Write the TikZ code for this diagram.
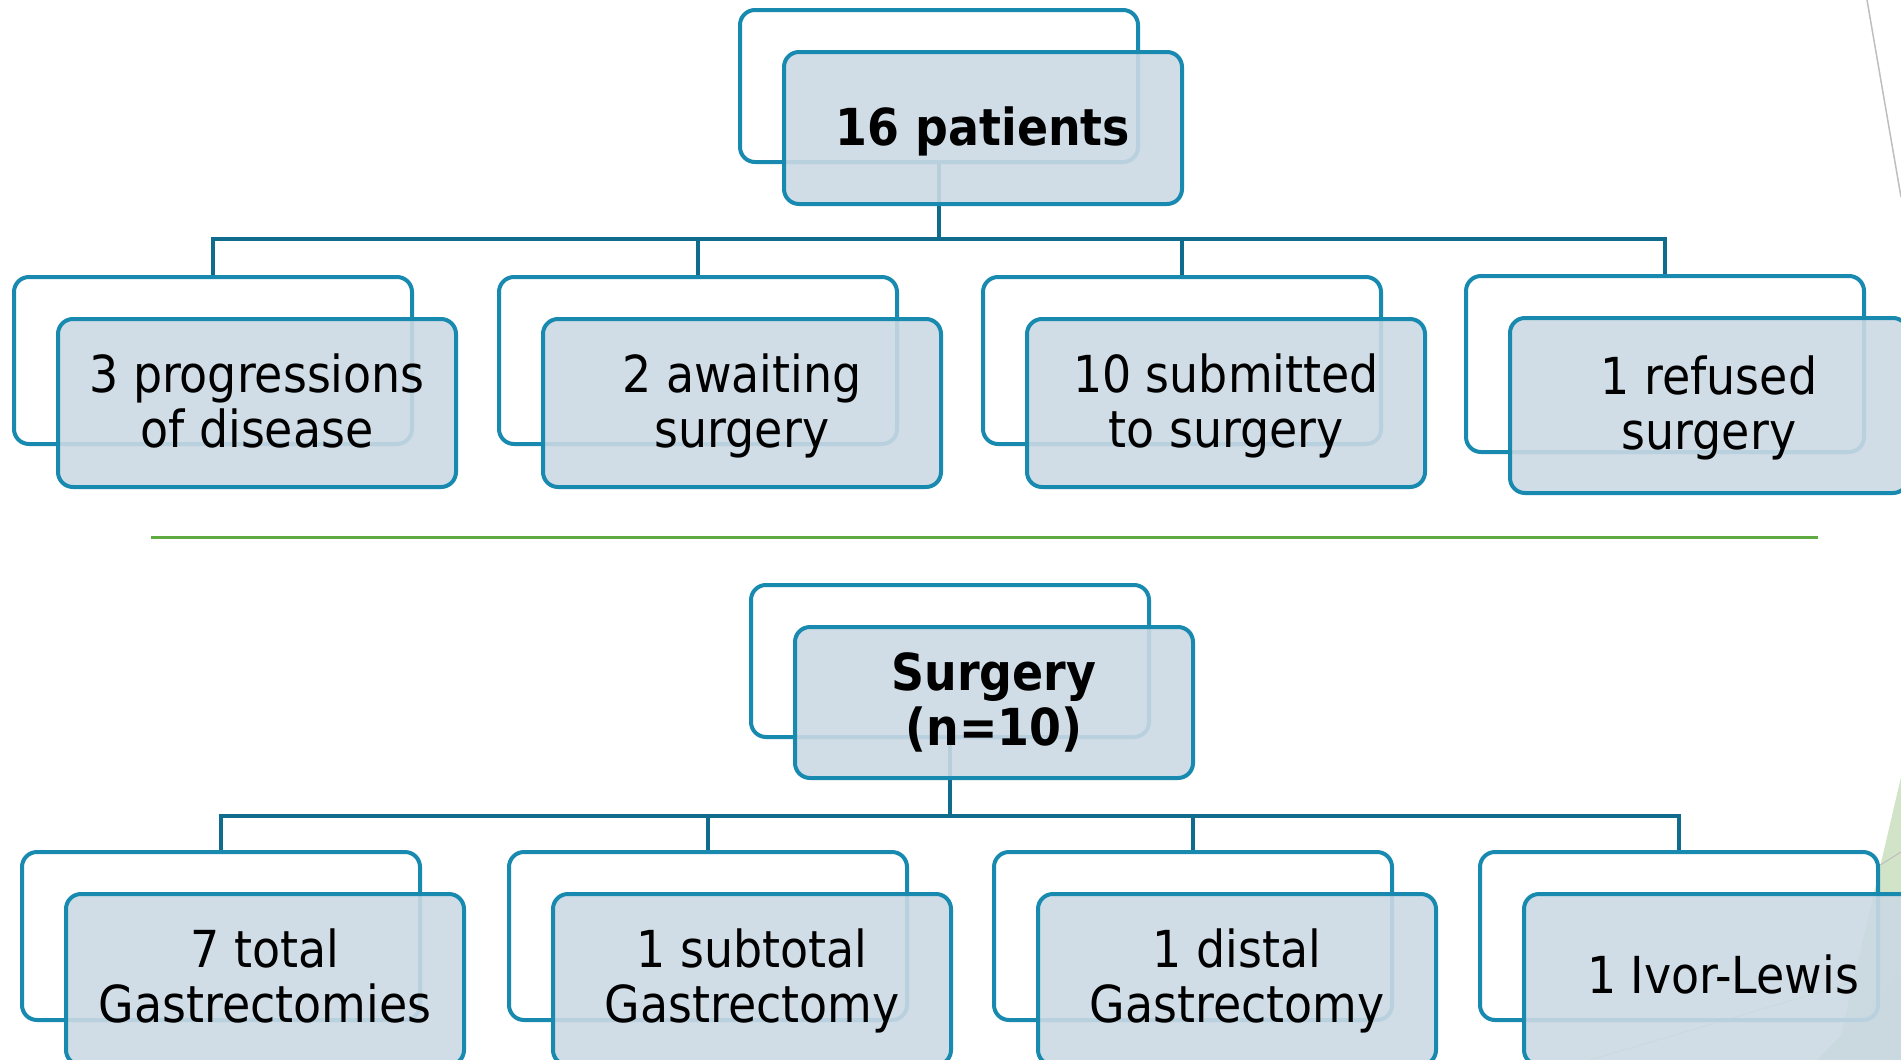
\documentclass[tikz,border=0pt]{standalone}
\usepackage{fontspec}
\setmainfont{DejaVu Sans Condensed}
\definecolor{boxline}{RGB}{24,138,176}
\definecolor{connline}{RGB}{16,108,140}
\definecolor{boxfill}{RGB}{203,217,227}
\definecolor{sepgreen}{RGB}{96,170,66}
\definecolor{decogreen}{RGB}{210,228,199}
\definecolor{decogreenb}{RGB}{200,222,192}
\definecolor{decogray}{RGB}{190,190,190}
\newcommand{\mytop}[1]{\rule{0pt}{#1}}
\newcommand{\mybot}[1]{\rule[-#1]{0pt}{0pt}}
\tikzset{
  backbox/.style={draw=boxline, line width=4pt, rounded corners=15pt,
    minimum width=398pt, minimum height=#1, inner sep=0pt},
  frontbox/.style={draw=boxline, line width=4pt, rounded corners=15pt,
    fill=boxfill, fill opacity=0.9, text opacity=1,
    minimum width=398pt, minimum height=#1, inner sep=0pt,
    align=center, font=\fontsize{51}{55}\selectfont},
  conn/.style={draw=connline, line width=4pt},
}
\begin{document}
\begin{tikzpicture}[x=1pt,y=-1pt]
\useasboundingbox (0,0) rectangle (1901,1060);
% decorations
\fill[decogreen] (1901,777) -- (1835,1060) -- (1901,1060) -- cycle;
\fill[decogreenb] (1817,1060) -- (1901,973) -- (1901,1060) -- cycle;
\draw[decogray, line width=1pt] (1877,867) -- (1901,852);
\draw[decogreenb, line width=1pt] (1590,1060) -- (1901,968);
\draw[decogray, line width=1.5pt] (1867,0) -- (1901,197);
\draw[sepgreen, line width=3pt] (151,537) -- (1818,537);
% back boxes
\node[backbox=152pt] (r0b) at (939,86) {};
\node[backbox=167pt] (a1b) at (213,360.5) {};
\node[backbox=167pt] (a2b) at (698,360.5) {};
\node[backbox=167pt] (a3b) at (1182,360.5) {};
\node[backbox=176pt] (a4b) at (1665,364) {};
\node[backbox=152pt] (s0b) at (950,661) {};
\node[backbox=168pt] (b1b) at (221,936) {};
\node[backbox=168pt] (b2b) at (708,936) {};
\node[backbox=168pt] (b3b) at (1193,936) {};
\node[backbox=168pt] (b4b) at (1679,936) {};
% connectors
\coordinate (bar1) at (0,239);
\coordinate (bar2) at (0,816);
\draw[conn] (r0b.south) -- (r0b.south |- bar1);
\draw[conn] (a1b.north) -- (a1b.north |- bar1) -- (a4b.north |- bar1) -- (a4b.north);
\draw[conn] (a2b.north) -- (a2b.north |- bar1);
\draw[conn] (a3b.north) -- (a3b.north |- bar1);
\draw[conn] (s0b.south) -- (s0b.south |- bar2);
\draw[conn] (b1b.north) -- (b1b.north |- bar2) -- (b4b.north |- bar2) -- (b4b.north);
\draw[conn] (b2b.north) -- (b2b.north |- bar2);
\draw[conn] (b3b.north) -- (b3b.north |- bar2);
% front boxes
\node[frontbox=152pt] (r0) at (983,128) {\mytop{47pt}\textbf{16 patients}\mybot{13pt}};
\node[frontbox=168pt] (a1) at (257,403) {\mytop{46pt}3 progressions\\of disease\mybot{13pt}};
\node[frontbox=168pt] (a2) at (742,403) {\mytop{46pt}2 awaiting\\surgery\mybot{13pt}};
\node[frontbox=168pt] (a3) at (1226,403) {\mytop{46pt}10 submitted\\to surgery\mybot{13pt}};
\node[frontbox=175pt] (a4) at (1709,405.5) {\mytop{46pt}1 refused\\surgery\mybot{13pt}};
\node[frontbox=151pt] (s0) at (994,702.5) {\mytop{43pt}\textbf{Surgery}\\\textbf{(n=10)}\mybot{13pt}};
\node[frontbox=171pt] (b1) at (265,979.5) {\mytop{43pt}7 total\\Gastrectomies\mybot{13pt}};
\node[frontbox=171pt] (b2) at (752,979.5) {\mytop{43pt}1 subtotal\\Gastrectomy\mybot{13pt}};
\node[frontbox=171pt] (b3) at (1237,979.5) {\mytop{43pt}1 distal\\Gastrectomy\mybot{13pt}};
\node[frontbox=171pt] (b4) at (1723,979.5) {\mytop{40pt}1 Ivor-Lewis\mybot{13pt}};
\end{tikzpicture}
\end{document}
